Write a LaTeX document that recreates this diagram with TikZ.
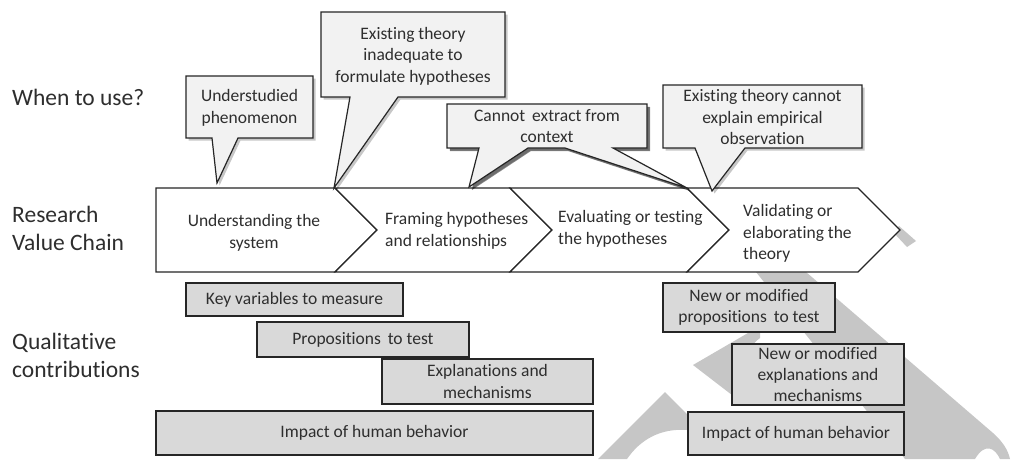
\documentclass[tikz,border=0pt]{standalone}
\usepackage{fontspec}
\setmainfont{Carlito}[Ligatures={NoCommon}]
\usetikzlibrary{shadows}
\definecolor{txt}{HTML}{2E2E2E}
\definecolor{edge}{HTML}{262626}
\definecolor{callfill}{HTML}{F2F2F2}
\definecolor{boxfill}{HTML}{D9D9D9}
\definecolor{wmark}{HTML}{C6C6C6}
\begin{document}
\begin{tikzpicture}[x=1pt,y=-1pt,
  lbl/.style={font=\fontsize{23.5}{28}\selectfont, text=txt, align=left, anchor=west, inner sep=0pt},
  txtc/.style={font=\fontsize{17.5}{21.5}\selectfont, text=txt, align=center, inner sep=0pt},
  txtl/.style={txtc, align=left, anchor=west},
  callout/.style={draw=edge, line width=1.2pt, fill=callfill, line join=miter,
    drop shadow={shadow xshift=2.5pt, shadow yshift=-2.5pt, fill=black, opacity=0.22}},
  chev/.style={draw=edge, line width=1.1pt, fill=white, line join=miter},
  contrib/.style={draw=edge, line width=1.3pt, fill=boxfill, txtc},
  wm/.style={fill=wmark, draw=none}
]
\useasboundingbox (0,0) rectangle (1026,459);
\fill[white] (0,0) rectangle (1026,459);

% watermark (behind everything)
\path[wm] (598,459) -- (665,392) -- (705,432) -- (705,440) -- (687,430)
  .. controls (660,428) and (640,440) .. (627,459) -- cycle;
\path[wm] (693,365) -- (760,326) -- (760,338) .. controls (740,352) and (734,385) .. (745,405) -- cycle;
\path[wm] (806,272) -- (993,433) .. controls (1003,442) and (1008,450) .. (1010,459)
  -- (1000,459) .. controls (995,448) and (985,442) .. (975,459) -- (905,459) -- (756,272) -- cycle;
\path[wm] (893,232) -- (899,226) -- (916,241) -- (907,247) -- cycle;

% left labels
\node[lbl] (when) at (12,97) {When to use?};
\node[lbl] (rvc) at (12,228.5) {Research\\Value Chain};
\node[lbl] (qc) at (12,355.5) {Qualitative\\contributions};

% research value chain
\path[chev] (156,188) -- (335,188) -- (377,230) -- (335,272) -- (156,272) -- cycle;
\path[chev] (335,188) -- (510,188) -- (552,230) -- (510,272) -- (335,272) -- (377,230) -- cycle;
\path[chev] (510,188) -- (687,188) -- (729,230) -- (687,272) -- (510,272) -- (552,230) -- cycle;
\path[chev] (687,188) -- (858,188) -- (900,230) -- (858,272) -- (687,272) -- (729,230) -- cycle;
\node[txtc] (s1) at (254,233) {Understanding the\\system};
\node[txtl] (s2) at (385,231) {Framing hypotheses\\and relationships};
\node[txtl] (s3) at (558,229) {Evaluating or testing\\the hypotheses};
\node[txtl] (s4) at (743,233.5) {Validating or\\elaborating the\\theory};

% callouts
\path[callout] (186,76) -- (313,76) -- (313,138) -- (238,138) -- (217,183) -- (212,138) -- (186,138) -- cycle;
\node[txtc] (c1) at (249.5,108) {Understudied\\phenomenon};

\path[callout] (321,12) -- (505,12) -- (505,97) -- (398,97) -- (334,188) -- (350,97) -- (321,97) -- cycle;
\node[txtc] (c2) at (413,56) {Existing theory\\inadequate to\\formulate hypotheses};

\path[callout, drop shadow={shadow xshift=3pt, shadow yshift=-3pt, fill=black, opacity=0.45}]
  (447,104) -- (647,104) -- (647,148) -- (613,148) -- (687,188) -- (565,148) -- (528,148)
  -- (469,187) -- (479,148) -- (447,148) -- cycle;
\node[txtc] (c3) at (547,126) {Cannot\, extract from\\context};

\path[callout] (663,85) -- (862,85) -- (862,148) -- (745,148) -- (712,191) -- (695,148) -- (663,148) -- cycle;
\node[txtc] (c4) at (762.5,117) {Existing theory cannot\\explain empirical\\observation};

% qualitative contributions
\node[contrib, minimum width=217pt, minimum height=33pt] (kv) at (294.5,299.5) {Key variables to measure};
\node[contrib, minimum width=212pt, minimum height=35pt] (pt) at (363,339.5) {Propositions\, to test};
\node[contrib, minimum width=211pt, minimum height=45pt] (em) at (487.5,381.5) {Explanations and\\mechanisms};
\node[contrib, minimum width=437pt, minimum height=44pt] (ih1) at (374.5,433) {Impact of human behavior};
\node[contrib, minimum width=172pt, minimum height=49pt] (np) at (749,307.5) {New or modified\\propositions\, to test};
\node[contrib, minimum width=172pt, minimum height=61pt, font=\fontsize{17.5}{21}\selectfont] (ne) at (818,374.5) {New or modified\\explanations and\\mechanisms};
\node[contrib, minimum width=216pt, minimum height=43pt] (ih2) at (796,433.5) {Impact of human behavior};
\end{tikzpicture}
\end{document}
